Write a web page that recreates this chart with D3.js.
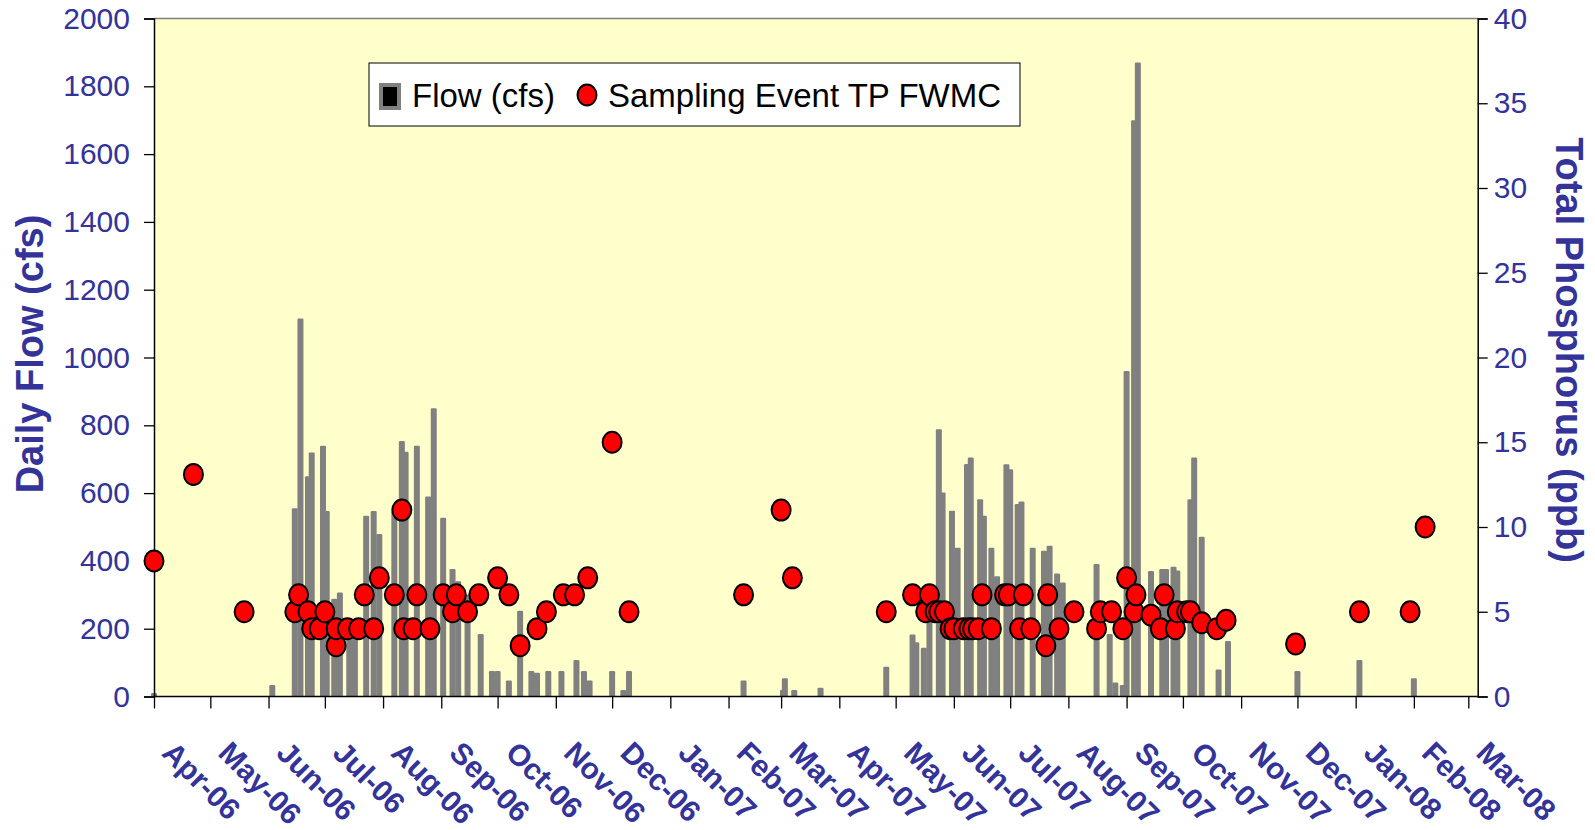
<!DOCTYPE html>
<html><head><meta charset="utf-8">
<script src="https://cdn.jsdelivr.net/npm/d3@7"></script>
<style>body{margin:0;background:#fff;} svg{display:block;}</style>
</head><body><svg id="c" width="1595" height="830"></svg>
<script>
const flowDates = ["2006-04-01","2006-06-03","2006-06-15","2006-06-18","2006-06-22","2006-06-24","2006-06-30","2006-07-02","2006-07-06","2006-07-09","2006-07-14","2006-07-17","2006-07-23","2006-07-27","2006-07-30","2006-08-07","2006-08-11","2006-08-13","2006-08-19","2006-08-25","2006-08-28","2006-09-02","2006-09-07","2006-09-10","2006-09-15","2006-09-22","2006-09-28","2006-10-01","2006-10-07","2006-10-13","2006-10-19","2006-10-22","2006-10-28","2006-11-04","2006-11-12","2006-11-16","2006-11-19","2006-12-01","2006-12-07","2006-12-10","2007-02-09","2007-03-02","2007-03-03","2007-03-08","2007-03-22","2007-04-26","2007-05-10","2007-05-12","2007-05-16","2007-05-19","2007-05-24","2007-05-26","2007-05-31","2007-06-03","2007-06-08","2007-06-10","2007-06-15","2007-06-17","2007-06-21","2007-06-24","2007-06-29","2007-07-01","2007-07-05","2007-07-07","2007-07-13","2007-07-19","2007-07-22","2007-07-26","2007-07-29","2007-08-16","2007-08-23","2007-08-26","2007-08-30","2007-09-01","2007-09-05","2007-09-07","2007-09-14","2007-09-20","2007-09-22","2007-09-26","2007-09-28","2007-10-05","2007-10-07","2007-10-11","2007-10-20","2007-10-25","2007-12-01","2008-01-03","2008-02-01"];
const flowValues = [10,34,555,1115,650,720,740,547,288,307,230,200,533,547,479,547,754,722,740,590,850,527,376,340,300,184,75,75,47,253,75,70,75,75,108,75,47,75,19,75,47,20,54,19,26,88,183,160,144,226,788,602,548,439,686,705,582,533,439,355,685,670,568,575,439,430,445,363,336,391,184,41,34,960,1700,1870,370,376,376,383,372,582,705,471,80,164,75,108,54];

const tpDates = ["2006-04-01","2006-04-22","2006-05-19","2006-06-15","2006-06-17","2006-06-22","2006-06-24","2006-06-28","2006-07-01","2006-07-07","2006-07-07","2006-07-13","2006-07-19","2006-07-22","2006-07-27","2006-07-30","2006-08-07","2006-08-11","2006-08-12","2006-08-17","2006-08-19","2006-08-26","2006-09-02","2006-09-07","2006-09-09","2006-09-15","2006-09-21","2006-10-01","2006-10-07","2006-10-13","2006-10-22","2006-10-27","2006-11-05","2006-11-11","2006-11-18","2006-12-01","2006-12-10","2007-02-09","2007-03-01","2007-03-07","2007-04-26","2007-05-10","2007-05-17","2007-05-19","2007-05-22","2007-05-24","2007-05-27","2007-05-30","2007-06-01","2007-06-06","2007-06-09","2007-06-11","2007-06-14","2007-06-16","2007-06-21","2007-06-28","2007-06-30","2007-07-06","2007-07-08","2007-07-12","2007-07-20","2007-07-21","2007-07-27","2007-08-04","2007-08-16","2007-08-18","2007-08-24","2007-08-30","2007-09-01","2007-09-05","2007-09-06","2007-09-14","2007-09-19","2007-09-21","2007-09-27","2007-09-28","2007-10-03","2007-10-05","2007-10-11","2007-10-19","2007-10-24","2007-11-30","2008-01-03","2008-01-30","2008-02-07"];
const tpValues = [8,13.1,5,5,6,5,4,4,5,3,4,4,4,6,4,7,6,11,4,4,6,4,6,5,6,5,6,7,6,3,4,5,6,6,7,15,5,6,11,7,5,6,5,6,5,5,5,4,4,4,4,4,4,6,4,6,6,4,6,4,3,6,4,5,4,5,5,4,7,5,6,4.8,4,6,4,5,5,5,4.35,4,4.5,3.1,5,5,10];

const flowTicks = [0,200,400,600,800,1000,1200,1400,1600,1800,2000];
const tpTicks = [0,5,10,15,20,25,30,35,40];
const monthDates = ["2006-04-01","2006-05-01","2006-06-01","2006-07-01","2006-08-01","2006-09-01","2006-10-01","2006-11-01","2006-12-01","2007-01-01","2007-02-01","2007-03-01","2007-04-01","2007-05-01","2007-06-01","2007-07-01","2007-08-01","2007-09-01","2007-10-01","2007-11-01","2007-12-01","2008-01-01","2008-02-01","2008-03-01"];
const monthLabels = ["Apr-06","May-06","Jun-06","Jul-06","Aug-06","Sep-06","Oct-06","Nov-06","Dec-06","Jan-07","Feb-07","Mar-07","Apr-07","May-07","Jun-07","Jul-07","Aug-07","Sep-07","Oct-07","Nov-07","Dec-07","Jan-08","Feb-08","Mar-08"];
const xDomain = ["2006-04-01","2008-03-06"];

const parse = d3.utcParse("%Y-%m-%d");
const L = 154, R = 1477.7, T = 18.5, B = 696.5;
const FONT = "'Liberation Sans', Arial, sans-serif";
const BLUE = "#333399";

const svg = d3.select("#c");
const x = d3.scaleUtc().domain(xDomain.map(parse)).range([L, R]);
const yF = d3.scaleLinear().domain([0, 2000]).range([B, T]);
const yP = d3.scaleLinear().domain([0, 40]).range([B, T]);

svg.append("rect").attr("x", L).attr("y", T).attr("width", R - L).attr("height", B - T).attr("fill", "#FFFFCC");
svg.append("line").attr("x1", L).attr("x2", R).attr("y1", T).attr("y2", T).attr("stroke", "#808080").attr("stroke-width", 1.5);

// bars
const bw = 6;
svg.append("g").selectAll("rect").data(flowDates.map((d, i) => ({d: parse(d), v: flowValues[i]})))
  .join("rect")
  .attr("x", d => x(d.d) - bw / 2).attr("width", bw)
  .attr("y", d => yF(d.v)).attr("height", d => B - yF(d.v))
  .attr("fill", "#808080").attr("rx", 1.2);

// axes
const gl = svg.append("g").attr("transform", `translate(${L},0)`)
  .call(d3.axisLeft(yF).tickValues(flowTicks).tickSize(10).tickPadding(14).tickFormat(d3.format("d")));
const gr = svg.append("g").attr("transform", `translate(${R},0)`)
  .call(d3.axisRight(yP).tickValues(tpTicks).tickSize(10).tickPadding(6).tickFormat(d3.format("d")));
const gb = svg.append("g").attr("transform", `translate(0,${B})`)
  .call(d3.axisBottom(x).tickValues(monthDates.map(parse)).tickSize(12).tickFormat((d, i) => monthLabels[i]));

[gl, gr, gb].forEach(g => {
  g.selectAll(".domain").attr("stroke", "#000").attr("stroke-width", 1.5);
  g.selectAll(".tick line").attr("stroke", "#000").attr("stroke-width", 1.3);
});
gb.select(".domain").attr("d", `M${L},0H${R}`);
[gl, gr].forEach(g => g.selectAll(".tick text").attr("fill", BLUE).style("font-family", FONT).style("font-size", "30px"));
gb.selectAll(".tick text")
  .attr("fill", BLUE).style("font-family", FONT).style("font-size", "30px").style("font-weight", "bold")
  .attr("x", 0).attr("y", 0).attr("dy", 0)
  .attr("text-anchor", "start")
  .attr("transform", "translate(6,58) rotate(45)");

// points
svg.append("g").selectAll("ellipse").data(tpDates.map((d, i) => ({d: parse(d), v: tpValues[i]})))
  .join("ellipse")
  .attr("cx", d => x(d.d)).attr("cy", d => yP(d.v))
  .attr("rx", 9.5).attr("ry", 10.5)
  .attr("fill", "#FF0000").attr("stroke", "#000").attr("stroke-width", 2);

// axis titles
svg.append("text").attr("transform", "translate(43,354) rotate(-90)")
  .attr("text-anchor", "middle").attr("fill", BLUE)
  .style("font-family", FONT).style("font-size", "38px").style("font-weight", "bold")
  .text("Daily Flow (cfs)");
svg.append("text").attr("transform", "translate(1556,350) rotate(90)")
  .attr("text-anchor", "middle").attr("fill", BLUE)
  .style("font-family", FONT).style("font-size", "38px").style("font-weight", "bold")
  .text("Total Phosphorus (ppb)");

// legend
const lg = svg.append("g");
lg.append("rect").attr("x", 369).attr("y", 63).attr("width", 651).attr("height", 63)
  .attr("fill", "#fff").attr("stroke", "#000").attr("stroke-width", 1);
lg.append("rect").attr("x", 381).attr("y", 85).attr("width", 18).attr("height", 23)
  .attr("fill", "#000").attr("stroke", "#808080").attr("stroke-width", 4);
lg.append("text").attr("x", 412).attr("y", 107).attr("fill", "#000")
  .style("font-family", FONT).style("font-size", "33px").text("Flow (cfs)");
lg.append("ellipse").attr("cx", 587).attr("cy", 95).attr("rx", 9.5).attr("ry", 10.5)
  .attr("fill", "#FF0000").attr("stroke", "#000").attr("stroke-width", 2);
lg.append("text").attr("x", 608).attr("y", 107).attr("fill", "#000")
  .style("font-family", FONT).style("font-size", "33px").text("Sampling Event TP FWMC");
</script></body></html>
